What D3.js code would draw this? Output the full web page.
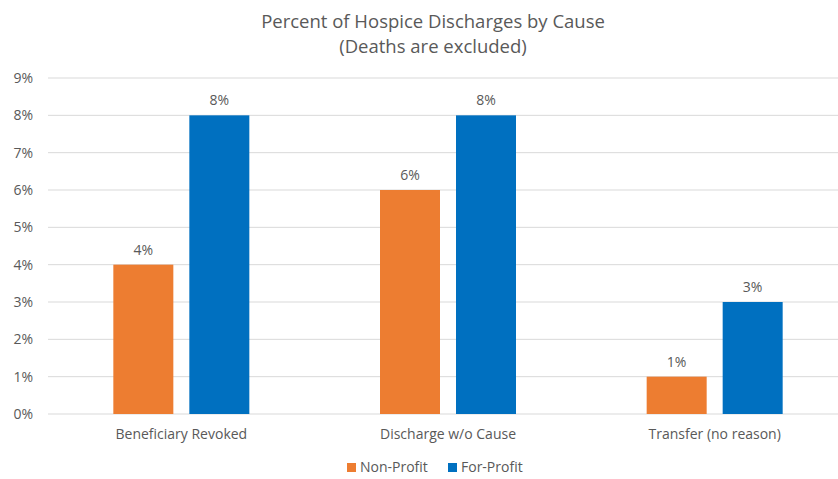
<!DOCTYPE html>
<html>
<head>
<meta charset="utf-8">
<script src="https://cdn.jsdelivr.net/npm/d3@7"></script>
<style>
  body { margin: 0; background: #fff; }
  text { font-family: "Open Sans", "Noto Sans", sans-serif; fill: #595959; }
</style>
</head>
<body>
<div id="chart"></div>
<script>
var categories = ["Beneficiary Revoked", "Discharge w/o Cause", "Transfer (no reason)"];
var series = ["Non-Profit", "For-Profit"];
var nonProfit = [4, 6, 1];
var forProfit = [8, 8, 3];
var yTicks = [0, 1, 2, 3, 4, 5, 6, 7, 8, 9];

var W = 838, H = 479;
var margin = { top: 78, right: -10, bottom: 65, left: 48 },
    width = W - margin.left - margin.right,
    height = H - margin.top - margin.bottom;

var color = d3.scaleOrdinal().domain(series).range(["#ED7D31", "#0070C0"]);

var data = categories.map(function (c, i) {
  return { cat: c, values: [ { key: series[0], v: nonProfit[i] }, { key: series[1], v: forProfit[i] } ] };
});

var svg = d3.select("#chart").append("svg")
    .attr("width", W)
    .attr("height", H);

var g = svg.append("g")
    .attr("transform", "translate(" + margin.left + "," + margin.top + ")");

var x0 = d3.scaleBand().domain(categories).range([0, width]);
var x1 = d3.scaleBand().domain(series).range([0, 136]).paddingInner(16 / 76);
var y = d3.scaleLinear().domain([0, 9]).range([height, 0]);

// gridlines
g.append("g")
    .selectAll("line")
    .data(yTicks)
    .enter().append("line")
    .attr("x1", 0).attr("x2", width)
    .attr("y1", d => y(d)).attr("y2", d => y(d))
    .attr("stroke", "#d9d9d9")
    .attr("stroke-width", 1);

// y axis labels
var yAxis = g.append("g")
    .call(d3.axisLeft(y).tickValues(yTicks).tickFormat(d => d + "%").tickSize(0).tickPadding(15));
yAxis.select(".domain").remove();
yAxis.selectAll("text").style("font-size", "14px").attr("fill", "#595959");

// x axis labels
var xAxis = g.append("g")
    .attr("transform", "translate(0," + height + ")")
    .call(d3.axisBottom(x0).tickSize(0).tickPadding(15));
xAxis.select(".domain").remove();
xAxis.selectAll("text").style("font-size", "14px").attr("fill", "#595959");

// bars
var groups = g.selectAll(".grp")
    .data(data)
    .enter().append("g")
    .attr("class", "grp")
    .attr("transform", d => "translate(" + (x0(d.cat) + x0.bandwidth() / 2 - 68) + ",0)");

groups.selectAll("rect")
    .data(d => d.values)
    .enter().append("rect")
    .attr("x", d => x1(d.key))
    .attr("width", x1.bandwidth())
    .attr("y", d => y(d.v))
    .attr("height", d => height - y(d.v))
    .attr("fill", d => color(d.key));

groups.selectAll(".lbl")
    .data(d => d.values)
    .enter().append("text")
    .attr("class", "lbl")
    .attr("x", d => x1(d.key) + x1.bandwidth() / 2)
    .attr("y", d => y(d.v) - 10)
    .attr("text-anchor", "middle")
    .style("font-size", "14px")
    .text(d => d.v + "%");

// title
svg.append("text")
    .attr("x", 433).attr("y", 28)
    .attr("text-anchor", "middle")
    .style("font-size", "18.5px")
    .text("Percent of Hospice Discharges by Cause");
svg.append("text")
    .attr("x", 433).attr("y", 53)
    .attr("text-anchor", "middle")
    .style("font-size", "18.5px")
    .text("(Deaths are excluded)");

// legend
var legend = svg.append("g").attr("transform", "translate(347,467)");
var lx = [0, 101];
series.forEach(function (s, i) {
  legend.append("rect")
      .attr("x", lx[i]).attr("y", -4)
      .attr("width", 9).attr("height", 9)
      .attr("fill", color(s));
  legend.append("text")
      .attr("x", lx[i] + 13).attr("y", 5)
      .style("font-size", "14px")
      .text(s);
});
</script>
</body>
</html>
